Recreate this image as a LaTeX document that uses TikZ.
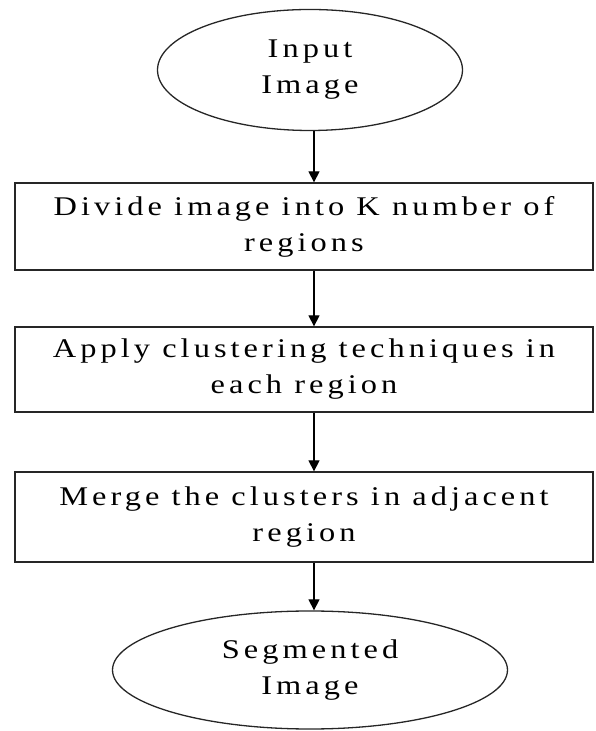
\documentclass[tikz,border=0pt]{standalone}
\usepackage{fontspec}
\setmainfont{Liberation Serif}[LetterSpace=15,FakeStretch=1.2]
\usetikzlibrary{shapes.geometric,arrows.meta}
\begin{document}
\begin{tikzpicture}[x=1pt,y=1pt,
  lbl/.style={font=\fontsize{27}{36}\selectfont, align=center, inner sep=0pt},
  oval/.style={lbl, draw=black!85, line width=1.3pt, ellipse, minimum width=#1},
  stepbox/.style={lbl, draw=black!85, line width=1.3pt, rectangle, minimum width=578, minimum height=#1},
  arr/.style={draw=black, line width=1.3pt, -{Triangle[length=11pt,width=11pt]}}]
\useasboundingbox (0,0) rectangle (595,731);
\node[oval=305, minimum height=121] (in) at (310,661) {Input\\Image};
\node[stepbox=87] (b1) at (304,504.5) {Divide image into K number of\\regions};
\node[stepbox=85] (b2) at (304,361.5) {Apply clustering techniques in\\each region};
\node[stepbox=90] (b3) at (304,214) {Merge the clusters in adjacent\\region};
\node[oval=395, minimum height=118] (out) at (310,61) {Segmented\\Image};
\draw[arr] ([xshift=4pt]in.south) -- ([xshift=4pt]in.south |- b1.north);
\draw[arr] ([xshift=10pt]b1.south) -- ([xshift=10pt]b1.south |- b2.north);
\draw[arr] ([xshift=10pt]b2.south) -- ([xshift=10pt]b2.south |- b3.north);
\draw[arr] ([xshift=10pt]b3.south) -- ([xshift=10pt]b3.south |- out.north);
\end{tikzpicture}
\end{document}
